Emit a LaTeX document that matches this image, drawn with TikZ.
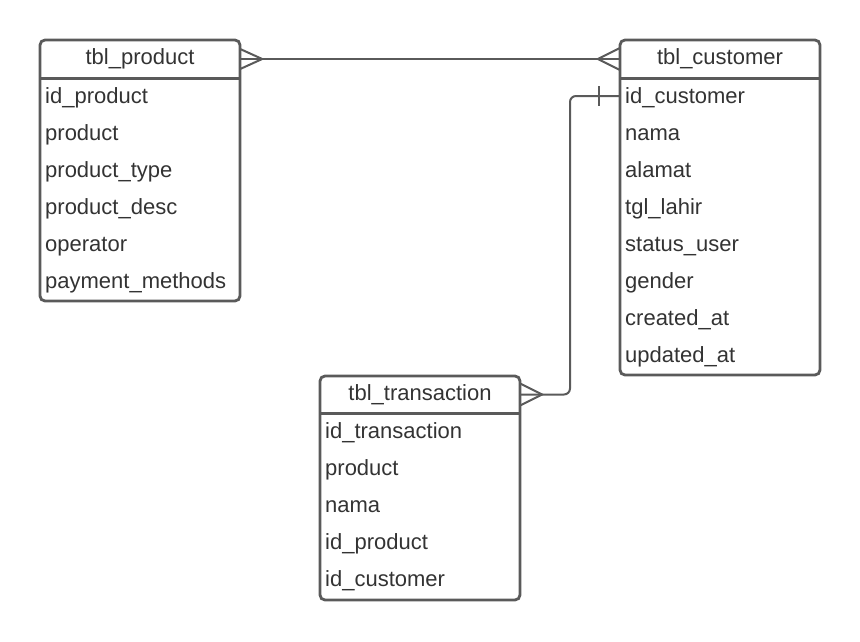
\documentclass[tikz,border=0pt]{standalone}
\usepackage{fontspec}
\setmainfont{Liberation Sans}
\usetikzlibrary{calc}
\definecolor{ln}{HTML}{5A5A5A}
\definecolor{tx}{HTML}{333333}
\begin{document}
\begin{tikzpicture}[x=1pt,y=-1pt,
  box/.style={draw=ln,line width=2.8pt,rounded corners=5pt,minimum width=200pt,inner sep=0pt},
  hdr/.style={minimum width=200pt,minimum height=38pt,inner sep=0pt,text=tx,font=\fontsize{22}{26}\selectfont},
  row/.style={anchor=base west,inner sep=0pt,text=tx,font=\fontsize{22}{26}\selectfont},
  sep/.style={draw=ln,line width=2.8pt},
  conn/.style={draw=ln,line width=2pt}]
\useasboundingbox (0,0) rectangle (860,641);
% tbl_product
\node[box,minimum height=261pt] (prod) at (140,170.5) {};
\node[hdr] (prodh) at (140,59) {tbl\_product};
\draw[sep] (40,78.5) -- (240,78.5);
\node[row] (p1) at (45,103.5) {id\_product};
\node[row] (p2) at (45,140.55) {product};
\node[row] (p3) at (45,177.6) {product\_type};
\node[row] (p4) at (45,214.65) {product\_desc};
\node[row] (p5) at (45,251.7) {operator};
\node[row] (p6) at (45,288.75) {payment\_methods};
% tbl_customer
\node[box,minimum height=335pt] (cust) at (720,207.5) {};
\node[hdr] (custh) at (720,59) {tbl\_customer};
\draw[sep] (620,78.5) -- (820,78.5);
\node[row] (c1) at (625,103.5) {id\_customer};
\node[row] (c2) at (625,140.55) {nama};
\node[row] (c3) at (625,177.6) {alamat};
\node[row] (c4) at (625,214.65) {tgl\_lahir};
\node[row] (c5) at (625,251.7) {status\_user};
\node[row] (c6) at (625,288.75) {gender};
\node[row] (c7) at (625,325.8) {created\_at};
\node[row] (c8) at (625,362.85) {updated\_at};
% tbl_transaction
\node[box,minimum height=224pt] (tran) at (420,488) {};
\node[hdr] (tranh) at (420,394.5) {tbl\_transaction};
\draw[sep] (320,413.5) -- (520,413.5);
\node[row] (t1) at (325,438.5) {id\_transaction};
\node[row] (t2) at (325,475.55) {product};
\node[row] (t3) at (325,512.6) {nama};
\node[row] (t4) at (325,549.65) {id\_product};
\node[row] (t5) at (325,586.7) {id\_customer};
% connector product -- customer (many to many)
\coordinate (pv) at ($(prodh.east)+(22,0)$);
\coordinate (cv) at ($(custh.west)+(-22,0)$);
\draw[conn] (prodh.east) -- (custh.west);
\draw[conn] ($(prodh.east)+(0,-10)$) -- (pv) -- ($(prodh.east)+(0,10)$);
\draw[conn] ($(custh.west)+(0,-11)$) -- (cv) -- ($(custh.west)+(0,11)$);
% connector customer -- transaction (one to many)
\coordinate (ce) at (620,96);
\coordinate (bend1) at (570,96);
\coordinate (bend2) at (570,394.5);
\coordinate (tv) at ($(tranh.east)+(22,0)$);
\draw[conn,rounded corners=6pt] (ce) -- (bend1) -- (bend2) -- (tranh.east);
\draw[conn] ($(ce)+(-21,-10)$) -- ($(ce)+(-21,10)$);
\draw[conn] ($(tranh.east)+(0,-11)$) -- (tv) -- ($(tranh.east)+(0,11)$);
\end{tikzpicture}
\end{document}
